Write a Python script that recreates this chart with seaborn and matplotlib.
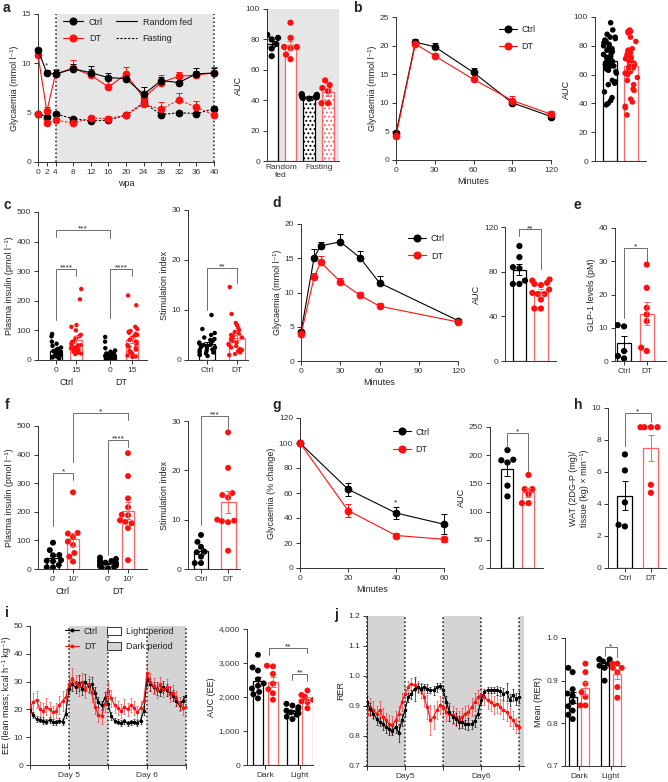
import numpy as np
import pandas as pd
import matplotlib
matplotlib.use("Agg")
import matplotlib.pyplot as plt
from matplotlib.lines import Line2D
from matplotlib.patches import Patch
import seaborn as sns

# ---------------- data ----------------
# a: glycaemia over weeks post ablation
wpa = [0, 2, 4, 8, 12, 16, 20, 24, 28, 32, 36, 40]
fed_ctrl = [11.35, 9.05, 8.9, 9.45, 9.05, 8.55, 8.45, 6.85, 8.25, 8.05, 8.95, 9.0]
fed_dt = [10.85, 5.15, 8.95, 9.5, 8.8, 7.6, 8.9, 6.5, 8.05, 8.7, 8.8, 9.05]
fast_ctrl = [4.9, 4.6, 4.85, 4.4, 4.15, 4.25, 4.75, 6.0, 4.8, 5.0, 4.9, 5.4]
fast_dt = [4.9, 4.0, 4.25, 3.95, 4.45, 4.4, 4.75, 5.85, 5.35, 6.3, 5.55, 4.75]
fed_ctrl_se = [0.2, 0.3, 0.4, 0.5, 0.7, 0.5, 0.3, 0.8, 0.4, 0.5, 0.6, 0.5]
fed_dt_se = [0.2, 0.4, 0.5, 0.8, 0.6, 0.9, 0.7, 0.6, 0.8, 0.4, 0.4, 0.6]
fast_ctrl_se = [0.1, 0.1, 0.1, 0.1, 0.1, 0.1, 0.1, 0.3, 0.1, 0.1, 0.2, 0.3]
fast_dt_se = [0.1, 0.1, 0.2, 0.1, 0.2, 0.3, 0.1, 0.4, 0.7, 0.7, 0.6, 0.1]
auc_fed_ctrl = [83, 81, 80, 77, 75, 74, 69]
auc_fed_dt = [91, 81, 75, 75, 74, 70, 67]
auc_fast_ctrl = [44, 43.5, 43, 42, 42, 41.5, 41]
auc_fast_dt = [53, 50, 48, 46, 38, 38]

# b: IPGTT
b_min = [0, 15, 30, 60, 90, 120]
b_ctrl = [4.65, 20.6, 19.8, 15.3, 10.0, 7.6]
b_dt = [4.2, 20.3, 18.2, 14.1, 10.4, 8.0]
b_ctrl_se = [0.3, 0.5, 0.7, 0.8, 0.3, 0.3]
b_dt_se = [0.2, 0.5, 0.5, 0.4, 0.8, 0.5]
b_auc_ctrl = [96, 91, 88, 86, 86, 85, 84, 83, 82, 81, 80, 79, 78, 77, 76, 75, 74, 73, 72, 71,
              70, 69, 68, 67, 66, 66, 65, 64, 63, 62, 61, 56, 55, 54, 53, 48, 44, 42, 40, 39]
b_auc_dt = [91, 90, 90, 89, 86, 83, 78, 77, 76, 75, 74, 73, 72, 71, 70, 69, 68, 67, 67, 66,
            66, 65, 65, 64, 63, 62, 61, 60, 58, 56, 53, 50, 49, 43, 41, 38, 37, 32]

# c: plasma insulin 0 / 15 min and stimulation index
c_ctrl_0 = [88, 80, 62, 55, 48, 42, 38, 35, 32, 30, 28, 26, 25, 24, 22, 20, 18, 17, 15, 14, 12, 10, 9, 8, 6]
c_ctrl_15 = [240, 205, 118, 112, 100, 85, 80, 75, 70, 62, 58, 55, 50, 48, 45, 42, 40, 38, 35, 32, 30, 28, 25, 22, 20]
c_dt_0 = [78, 62, 40, 32, 28, 25, 22, 20, 18, 16, 15, 14, 12, 11, 10, 9, 8, 7, 6, 5, 5, 4, 3, 2, 2]
c_dt_15 = [218, 185, 112, 105, 98, 95, 92, 88, 85, 80, 75, 68, 62, 55, 50, 45, 40, 35, 30, 28, 25, 20, 15, 12, 10]
c_si_ctrl = [9, 6.2, 5.4, 5, 4.5, 4.2, 4, 3.8, 3.5, 3.3, 3.1, 3, 2.8, 2.6, 2.5, 2.3, 2.1, 2, 1.8, 1.6, 1.5, 1.3, 1.1, 1, 0.8]
c_si_dt = [14.6, 9.2, 7.4, 7, 6.4, 6, 5.6, 5.2, 5, 4.8, 4.5, 4.2, 4, 3.8, 3.5, 3.2, 3, 2.8, 2.5, 2.2, 2, 1.8, 1.5, 1.2, 1]

# d: OGTT
d_min = [0, 10, 15, 30, 45, 60, 120]
d_ctrl = [4.2, 15.1, 16.8, 17.4, 15.1, 11.4, 5.9]
d_dt = [3.9, 12.2, 14.4, 11.6, 9.6, 8.0, 5.7]
d_ctrl_se = [0.3, 1.3, 0.5, 1.2, 1.0, 1.0, 0.2]
d_dt_se = [0.2, 0.6, 0.9, 0.5, 0.5, 0.4, 0.2]
d_auc_ctrl = [103, 93, 84, 83, 72, 69, 69]
d_auc_dt = [73, 72, 70, 69, 68, 64, 61, 60, 60, 55, 47, 47]

# e: GLP-1
e_ctrl = [10.8, 10.4, 3.0, 1.5, 0.8]
e_dt = [29, 22, 16, 14, 12, 4, 3]

# f: plasma insulin 0' / 10' and stimulation index
f_ctrl_0 = [92, 66, 49, 48, 31, 29, 27, 14, 6, 6]
f_ctrl_10 = [268, 126, 124, 112, 96, 84, 56, 43, 26]
f_dt_0 = [40, 35, 30, 28, 25, 22, 20, 18, 15, 12, 10, 8, 5, 3]
f_dt_10 = [405, 325, 247, 216, 190, 188, 170, 165, 160, 143, 31]
f_si_ctrl = [6.9, 5.5, 4.5, 3.5, 3.4, 2.5, 1.2, 1.2]
f_si_dt = [27.7, 20.5, 15.4, 15, 14.5, 10, 9.8, 9.7, 9.5, 3.7]

# g: ITT
g_min = [0, 20, 40, 60]
g_ctrl = [100, 63, 44, 35]
g_dt = [100, 46, 26, 23]
g_ctrl_se = [0, 5, 5, 8]
g_dt_se = [0, 5, 2, 2]
g_auc_ctrl = [209, 192, 191, 187, 146, 127]
g_auc_dt = [165, 140, 140, 131, 115, 115]

# h: WAT 2DG uptake
h_ctrl = [7.1, 6.1, 4.1, 2.7, 2.6]
h_dt = [8.8, 8.8, 8.8, 8.8, 5.2, 4.7]

# i: energy expenditure, hourly over 48 h
ee_ctrl = [20.0, 18.0, 16.5, 16.2, 16.0, 15.6, 16.2, 15.5, 15.3, 16.0, 15.5, 18.5,
           27.5, 29.0, 28.0, 29.5, 27.5, 30.0, 28.5, 29.0, 26.0, 22.5, 21.5, 24.0,
           22.0, 17.5, 16.0, 15.5, 15.2, 15.8, 15.0, 15.3, 15.6, 15.2, 16.0, 19.5,
           31.0, 29.0, 28.0, 27.5, 26.5, 28.0, 27.0, 26.0, 25.0, 23.0, 21.5, 23.0,
           25.0]
ee_dt = [21.0, 22.5, 23.5, 20.0, 19.5, 21.0, 20.0, 19.0, 19.5, 21.5, 23.0, 24.5,
         29.0, 31.0, 29.5, 28.5, 30.0, 27.0, 29.0, 26.0, 21.0, 18.0, 17.5, 22.0,
         26.5, 24.0, 21.5, 20.5, 19.5, 21.0, 20.0, 21.5, 20.5, 19.0, 20.5, 23.0,
         33.0, 30.0, 28.5, 27.0, 29.0, 27.0, 28.0, 25.5, 26.0, 24.0, 22.0, 20.5,
         21.0]
ee_ctrl_se = [1.2, 1.0, 1.0, 0.9, 1.1, 0.9, 1.0, 1.2, 0.9, 1.0, 1.1, 1.5,
              2.0, 2.5, 2.2, 2.8, 2.4, 2.6, 2.3, 2.5, 2.0, 1.8, 1.6, 2.2,
              2.0, 1.4, 1.0, 0.9, 1.0, 0.9, 1.0, 0.8, 0.9, 1.0, 1.1, 1.6,
              2.5, 2.4, 2.0, 2.2, 1.8, 2.1, 2.3, 1.9, 2.0, 1.8, 1.7, 2.0,
              2.2]
ee_dt_se = [2.5, 3.5, 3.0, 2.5, 2.8, 3.0, 2.6, 2.4, 2.7, 3.2, 3.5, 3.0,
            3.2, 3.8, 3.0, 3.5, 3.2, 2.8, 3.0, 3.2, 2.8, 2.5, 2.6, 3.0,
            3.4, 3.0, 2.8, 2.6, 2.5, 2.8, 2.4, 2.6, 2.5, 2.4, 2.6, 2.8,
            3.5, 3.0, 2.8, 3.0, 2.8, 2.6, 2.9, 2.8, 2.6, 2.7, 2.4, 2.5,
            2.8]
ee_auc_dark_ctrl = [3240, 2870, 2780, 2520, 2400, 2330, 2250, 2150, 2080, 1960]
ee_auc_dark_dt = [2920, 2900, 2680, 2390, 2230, 2110, 1920]
ee_auc_light_ctrl = [1800, 1750, 1700, 1650, 1600, 1550, 1520, 1480, 1420, 1350]
ee_auc_light_dt = [2190, 2060, 2010, 1920, 1870, 1850, 1670]

# j: respiratory exchange ratio, hourly over 48 h
rer_ctrl = [0.914, 0.890, 0.875, 0.858, 0.847, 0.840, 0.830, 0.825, 0.817, 0.830, 0.810, 0.853,
            0.886, 0.930, 0.940, 0.958, 0.963, 0.958, 0.965, 0.958, 0.953, 0.953, 0.963, 0.968,
            0.953, 0.914, 0.880, 0.864, 0.858, 0.847, 0.847, 0.840, 0.839, 0.840, 0.851, 0.875,
            0.920, 0.947, 0.953, 0.953, 0.955, 0.953, 0.950, 0.940, 0.947, 0.920, 0.936, 0.925,
            0.930]
rer_dt = [0.875, 0.897, 0.886, 0.875, 0.886, 0.864, 0.853, 0.840, 0.836, 0.853, 0.875, 0.914,
          0.940, 0.963, 0.975, 0.970, 0.963, 0.953, 0.930, 0.897, 0.853, 0.864, 0.886, 0.903,
          0.897, 0.880, 0.875, 0.870, 0.864, 0.853, 0.864, 0.875, 0.880, 0.897, 0.914, 0.930,
          0.936, 0.930, 0.920, 0.914, 0.903, 0.908, 0.897, 0.886, 0.880, 0.864, 0.853, 0.836,
          0.830]
rer_ctrl_se = [0.02, 0.02, 0.015, 0.02, 0.015, 0.02, 0.02, 0.02, 0.015, 0.02, 0.03, 0.02,
               0.02, 0.015, 0.015, 0.04, 0.015, 0.015, 0.01, 0.015, 0.01, 0.015, 0.015, 0.01,
               0.015, 0.02, 0.03, 0.02, 0.02, 0.02, 0.02, 0.015, 0.02, 0.015, 0.02, 0.015,
               0.015, 0.01, 0.01, 0.01, 0.01, 0.015, 0.015, 0.02, 0.03, 0.02, 0.02, 0.02,
               0.02]
rer_dt_se = [0.03, 0.03, 0.03, 0.025, 0.03, 0.03, 0.025, 0.03, 0.03, 0.03, 0.025, 0.03,
             0.025, 0.02, 0.02, 0.02, 0.02, 0.025, 0.03, 0.04, 0.05, 0.04, 0.03, 0.03,
             0.03, 0.03, 0.025, 0.03, 0.03, 0.03, 0.03, 0.025, 0.025, 0.03, 0.03, 0.025,
             0.025, 0.025, 0.03, 0.03, 0.03, 0.03, 0.025, 0.03, 0.03, 0.03, 0.03, 0.025,
             0.02]
rer_mean_dark_ctrl = [0.93, 0.92, 0.88, 0.87, 0.865, 0.85, 0.84, 0.83, 0.82, 0.81]
rer_mean_dark_dt = [0.94, 0.92, 0.893, 0.873, 0.862, 0.842, 0.842]
rer_mean_light_ctrl = [0.95, 0.95, 0.95, 0.945, 0.94, 0.935, 0.93, 0.9]
rer_mean_light_dt = [0.94, 0.94, 0.93, 0.93, 0.92, 0.885, 0.86]

# ---------------- style ----------------
sns.set_theme(style="ticks", context="paper")
plt.rcParams["font.family"] = ["Liberation Sans", "DejaVu Sans"]
plt.rcParams.update({
    "font.size": 6.5, "axes.labelsize": 6.5, "xtick.labelsize": 6, "ytick.labelsize": 6,
    "axes.linewidth": 0.7, "xtick.major.width": 0.7, "ytick.major.width": 0.7,
    "xtick.major.size": 3, "ytick.major.size": 3, "xtick.major.pad": 2, "ytick.major.pad": 2,
    "axes.edgecolor": "#333333", "text.color": "#222222", "axes.labelcolor": "#222222",
    "xtick.color": "#333333", "ytick.color": "#333333", "hatch.linewidth": 0.9,
    "axes.labelpad": 2, "legend.fontsize": 6.5,
})

BLK = "black"
RED = "#ff1010"
RED_BAR = "#ff6464"
DOT = (0, (1, 1.6))
DASH = (0, (2, 1.5))

W, H = 668, 782
np.random.seed(3)
fig = plt.figure(figsize=(W / 100, H / 100), dpi=100)


def box(l, t, r, b):
    ax = fig.add_axes([l / W, 1 - b / H, (r - l) / W, (b - t) / H])
    sns.despine(ax=ax)
    return ax


def curve(ax, x, y, se, color, ls="-", both=False, ms=4.8):
    sns.lineplot(x=x, y=y, color=color, lw=0.8, linestyle=ls, marker="o", markersize=ms,
                 markeredgecolor=color, ax=ax, clip_on=False, zorder=4)
    se = np.asarray(se, float)
    yerr = se if both else [np.zeros_like(se), se]
    ax.errorbar(x, y, yerr=yerr, fmt="none", ecolor=color, elinewidth=0.7, capsize=2,
                capthick=0.7, zorder=3, clip_on=False)


def trace(ax, y, se, color, alpha):
    hrs = np.arange(len(y))
    ax.errorbar(hrs, y, yerr=se, fmt="none", ecolor=color, elinewidth=0.5, capsize=1,
                capthick=0.5, alpha=alpha, zorder=3)
    sns.lineplot(x=hrs, y=y, color=color, lw=0.8, marker="o", markersize=1.8,
                 markeredgecolor=color, ax=ax, zorder=4)


def bar_dots(ax, pos, groups, kinds, width, size=4.5, hatches=None, jitter=None):
    for i, (p, vals, k) in enumerate(zip(pos, groups, kinds)):
        vals = np.asarray(vals, float)
        m = vals.mean()
        se = vals.std(ddof=1) / np.sqrt(len(vals))
        ec = BLK if k == "Ctrl" else RED_BAR
        ax.bar(p, m, width=width, facecolor="white", edgecolor=ec, lw=0.9,
               hatch=None if hatches is None else hatches[i], zorder=1)
        ax.errorbar(p, m, yerr=se, fmt="none", ecolor=ec, elinewidth=0.7, capsize=2,
                    capthick=0.7, zorder=5)
    n = [len(g) for g in groups]
    df = pd.DataFrame({"x": np.repeat(np.asarray(pos, float), n),
                       "y": np.concatenate([np.asarray(g, float) for g in groups]),
                       "grp": np.repeat(kinds, n)})
    pal = {"Ctrl": BLK, "DT": RED}
    if jitter is None:
        sns.swarmplot(data=df, x="x", y="y", hue="grp", palette=pal, native_scale=True,
                      size=size, linewidth=0, ax=ax, legend=False, zorder=3)
    else:
        sns.stripplot(data=df, x="x", y="y", hue="grp", palette=pal, native_scale=True,
                      size=size, linewidth=0, jitter=jitter, ax=ax, legend=False, zorder=3)
    ax.set_xlabel("")
    ax.set_ylabel("")


def sig(ax, x1, x2, y, y1, y2, txt):
    ax.plot([x1, x1, x2, x2], [y1, y, y, y2], color="#555555", lw=0.6, clip_on=False, zorder=6)
    ax.annotate(txt, xy=((x1 + x2) / 2, y), xytext=(0, -0.5), textcoords="offset points",
                ha="center", va="baseline", fontsize=6, annotation_clip=False)


def group_label(ax, x, txt):
    ax.annotate(txt, xy=(x, 0), xycoords=("data", "axes fraction"), xytext=(0, -16.5),
                textcoords="offset points", ha="center", va="center", fontsize=6.5)


def legend_ctrl_dt(ax, anchor, ms=4.8):
    hs = [Line2D([], [], color=BLK, marker="o", ms=ms, lw=0.8),
          Line2D([], [], color=RED, marker="o", ms=ms, lw=0.8)]
    ax.legend(hs, ["Ctrl", "DT"], loc="upper left", bbox_to_anchor=anchor, frameon=False,
              handlelength=2.0, labelspacing=0.9, handletextpad=0.5, borderaxespad=0)


ctrl_dt = ["Ctrl", "DT"]
four = ["Ctrl", "DT", "Ctrl", "DT"]
ylab_gly = "Glycaemia (mmol l\u207b\u00b9)"
ylab_ins = "Plasma insulin (pmol l\u207b\u00b9)"

# ---------------- a ----------------
ax = box(38, 14, 214, 162)
ax.axvspan(4, 40, color="#e6e6e6", lw=0, zorder=0)
for xv in (4, 40):
    ax.axvline(xv, color="k", lw=1.1, ls=DOT, zorder=1, clip_on=False)
curve(ax, wpa, fast_ctrl, fast_ctrl_se, BLK, ls=DASH)
curve(ax, wpa, fast_dt, fast_dt_se, RED, ls=DASH)
curve(ax, wpa, fed_dt, fed_dt_se, RED)
curve(ax, wpa, fed_ctrl, fed_ctrl_se, BLK)
ax.text(2, 9.55, "*", ha="center", va="baseline", fontsize=6)
ax.set_xlim(0, 40)
ax.set_ylim(0, 15)
ax.set_xticks(wpa)
ax.set_yticks([0, 5, 10, 15])
ax.set_xlabel("wpa")
ax.set_ylabel(ylab_gly)
hs = [Line2D([], [], color=BLK, marker="o", ms=4.8, lw=0.8),
      Line2D([], [], color=RED, marker="o", ms=4.8, lw=0.8),
      Line2D([], [], color=BLK, lw=0.8), Line2D([], [], color=BLK, lw=0.8, ls=DASH)]
ax.legend(hs, ["Ctrl", "DT", "Random fed", "Fasting"], ncol=2, loc="upper left",
          bbox_to_anchor=(0.12, 1.0), frameon=False, handlelength=2.3, columnspacing=1.5,
          labelspacing=0.8, handletextpad=0.6, borderaxespad=0)

ax = box(267, 9, 339, 161)
ax.set_facecolor("#e6e6e6")
bar_dots(ax, [0, 1, 2, 3], [auc_fed_ctrl, auc_fed_dt, auc_fast_ctrl, auc_fast_dt], four,
         0.63, size=4.5, hatches=[None, None, "....", "...."])
ax.set_xlim(-0.25, 3.58)
ax.set_ylim(0, 100)
ax.set_yticks(range(0, 101, 20))
ax.set_xticks([0.5, 2.5], ["Random\nfed", "Fasting"])
ax.tick_params(axis="x", length=0)
ax.set_ylabel("AUC")

# ---------------- b ----------------
ax = box(396, 17, 551, 160)
curve(ax, b_min, b_ctrl, b_ctrl_se, BLK)
curve(ax, b_min, b_dt, b_dt_se, RED)
ax.set_xlim(0, 120)
ax.set_ylim(0, 25)
ax.set_xticks([0, 30, 60, 90, 120])
ax.set_yticks(range(0, 26, 5))
ax.set_xlabel("Minutes")
ax.set_ylabel(ylab_gly)
legend_ctrl_dt(ax, (0.64, 0.97))

ax = box(595, 17, 646, 161)
bar_dots(ax, [0, 1], [b_auc_ctrl, b_auc_dt], ctrl_dt, 0.67, size=4, jitter=0.32)
ax.set_xlim(-0.71, 1.71)
ax.set_ylim(0, 100)
ax.set_yticks(range(0, 101, 20))
ax.set_xticks([])
ax.set_ylabel("AUC")

# ---------------- c ----------------
c_pos = [0, 1, 2.7, 3.8]
ax = box(38, 212, 147, 360)
bar_dots(ax, c_pos, [c_ctrl_0, c_ctrl_15, c_dt_0, c_dt_15], four, 0.6, size=3.2, jitter=0.28)
ax.set_xlim(-0.9, 4.55)
ax.set_ylim(0, 500)
ax.set_yticks(range(0, 501, 100))
ax.set_xticks(c_pos, ["0", "15", "0", "15"])
group_label(ax, 0.5, "Ctrl")
group_label(ax, 3.25, "DT")
ax.set_ylabel(ylab_ins)
sig(ax, 0, 2.7, 439, 416, 412, "***")
sig(ax, 0, 1, 307, 135, 283, "****")
sig(ax, 2.7, 3.8, 307, 142, 283, "****")

ax = box(188, 210, 248, 360)
bar_dots(ax, [0, 1], [c_si_ctrl, c_si_dt], ctrl_dt, 0.55, size=3.2, jitter=0.28)
ax.set_xlim(-0.63, 1.37)
ax.set_ylim(0, 30)
ax.set_yticks([0, 10, 20, 30])
ax.set_xticks([0, 1], ctrl_dt)
ax.set_ylabel("Stimulation index")
sig(ax, 0, 1, 18.5, 10, 15.5, "**")

# ---------------- d ----------------
ax = box(301, 224, 458, 361)
curve(ax, d_min, d_ctrl, d_ctrl_se, BLK)
curve(ax, d_min, d_dt, d_dt_se, RED)
ax.set_xlim(0, 120)
ax.set_ylim(0, 20)
ax.set_xticks([0, 30, 60, 90, 120])
ax.set_yticks(range(0, 21, 5))
ax.set_xlabel("Minutes")
ax.set_ylabel(ylab_gly)
legend_ctrl_dt(ax, (0.66, 0.95))

ax = box(505, 227, 556, 361)
bar_dots(ax, [0, 1], [d_auc_ctrl, d_auc_dt], ctrl_dt, 0.62, size=4.5)
ax.set_xlim(-0.67, 1.7)
ax.set_ylim(0, 120)
ax.set_yticks([0, 40, 80, 120])
ax.set_xticks([])
ax.set_ylabel("AUC")
sig(ax, 0, 1, 118, 112, 82, "**")

# ---------------- e ----------------
ax = box(615, 228, 666, 361)
bar_dots(ax, [0, 1], [e_ctrl, e_dt], ctrl_dt, 0.6, size=4.5)
ax.set_xlim(-0.4, 1.85)
ax.set_ylim(0, 40)
ax.set_yticks(range(0, 41, 10))
ax.set_xticks([0, 1], ctrl_dt)
ax.set_ylabel("GLP-1 levels (pM)")
sig(ax, 0, 1, 34, 13, 30, "*")

# ---------------- f ----------------
f_pos = [0, 1, 2.75, 3.75]
ax = box(38, 426, 147, 569)
bar_dots(ax, f_pos, [f_ctrl_0, f_ctrl_10, f_dt_0, f_dt_10], four, 0.6, size=4.3)
ax.set_xlim(-0.75, 4.7)
ax.set_ylim(0, 500)
ax.set_yticks(range(0, 501, 100))
ax.set_xticks(f_pos, ["0\u2032", "10\u2032", "0\u2032", "10\u2032"])
group_label(ax, 0.5, "Ctrl")
group_label(ax, 3.25, "DT")
ax.set_ylabel(ylab_ins)
sig(ax, 0, 1, 337, 150, 310, "*")
sig(ax, 1, 3.75, 546, 375, 520, "*")
sig(ax, 2.75, 3.75, 451, 50, 428, "****")

ax = box(188, 421, 240, 569)
bar_dots(ax, [0, 1], [f_si_ctrl, f_si_dt], ctrl_dt, 0.55, size=4.3)
ax.set_xlim(-0.48, 1.44)
ax.set_ylim(0, 30)
ax.set_yticks([0, 10, 20, 30])
ax.set_xticks([0, 1], ctrl_dt)
ax.set_ylabel("Stimulation index")
sig(ax, 0, 1, 31, 9, 28.6, "***")

# ---------------- g ----------------
ax = box(300, 418, 444, 568)
curve(ax, g_min, g_ctrl, g_ctrl_se, BLK, both=True)
curve(ax, g_min, g_dt, g_dt_se, RED, both=True)
ax.text(40, 50.5, "*", ha="center", va="baseline", fontsize=6)
ax.set_xlim(0, 60)
ax.set_ylim(0, 120)
ax.set_xticks([0, 20, 40, 60])
ax.set_yticks(range(0, 121, 20))
ax.set_xlabel("Minutes")
ax.set_ylabel("Glycaemia (% change)")
legend_ctrl_dt(ax, (0.62, 0.96))

ax = box(490, 427, 543, 568)
bar_dots(ax, [0, 1], [g_auc_ctrl, g_auc_dt], ctrl_dt, 0.57, size=4.5)
ax.set_xlim(-0.83, 1.69)
ax.set_ylim(0, 250)
ax.set_yticks(range(0, 251, 50))
ax.set_xticks([])
ax.set_ylabel("AUC")
sig(ax, 0, 1, 240, 212, 172, "*")

# ---------------- h ----------------
ax = box(608, 408, 666, 568)
bar_dots(ax, [0, 1], [h_ctrl, h_dt], ctrl_dt, 0.58, size=4.5)
ax.set_xlim(-0.65, 1.58)
ax.set_ylim(0, 10)
ax.set_yticks(range(0, 11, 2))
ax.set_xticks([0, 1], ctrl_dt)
ax.set_ylabel("WAT (2DG-P (mg)/\ntissue (kg) \u00d7 min\u207b\u00b9)")
sig(ax, 0, 1, 9.7, 7.6, 9.1, "*")

# ---------------- i ----------------
ax = box(30, 626, 186, 765)
for a0, a1 in [(12, 24), (36, 48)]:
    ax.axvspan(a0, a1, color="#d4d4d4", lw=0, zorder=0)
for xv in (12, 24, 36, 48):
    ax.axvline(xv, color="k", lw=1.1, ls=DOT, zorder=1, clip_on=False)
trace(ax, ee_ctrl, ee_ctrl_se, BLK, 0.9)
trace(ax, ee_dt, ee_dt_se, RED, 0.75)
ax.set_xlim(0, 48)
ax.set_ylim(0, 50)
ax.set_yticks(range(0, 51, 10))
ax.set_xticks([0, 12, 24, 36, 48], ["", "Day 5", "", "Day 6", ""])
ax.set_ylabel("EE (lean mass; kcal h\u207b\u00b9 kg\u207b\u00b9)")
hs = [Line2D([], [], color=BLK, marker="o", ms=1.8, lw=0.8),
      Line2D([], [], color=RED, marker="o", ms=1.8, lw=0.8),
      Patch(facecolor="white", edgecolor="#333333", lw=0.7),
      Patch(facecolor="#d4d4d4", edgecolor="#333333", lw=0.7)]
ax.legend(hs, ["Ctrl", "DT", "Light period", "Dark period"], ncol=2, loc="upper left",
          bbox_to_anchor=(0.2, 1.02), frameon=False, handlelength=1.6, handleheight=1.0,
          columnspacing=1.0, labelspacing=0.7, handletextpad=0.5, borderaxespad=0)

ax = box(247, 629, 313, 765)
i_pos = [0, 1, 2.3, 3.3]
bar_dots(ax, i_pos, [ee_auc_dark_ctrl, ee_auc_dark_dt, ee_auc_light_ctrl, ee_auc_light_dt],
         four, 0.68, size=4.3)
ax.set_xlim(-0.73, 3.67)
ax.set_ylim(0, 4000)
ax.set_yticks(range(0, 4001, 1000), ["0", "1,000", "2,000", "3,000", "4,000"])
ax.set_xticks([0.5, 2.8], ["Dark", "Light"])
ax.set_ylabel("AUC (EE)")
sig(ax, 0.75, 3.3, 3450, 3250, 3300, "**")
sig(ax, 2.3, 3.3, 2680, 2500, 2460, "**")

# ---------------- j ----------------
ax = box(367, 616, 524, 766)
for a0, a1 in [(0, 12), (24, 36), (48, 49.5)]:
    ax.axvspan(a0, a1, color="#d4d4d4", lw=0, zorder=0)
for xv in (0, 12, 24, 36, 48):
    ax.axvline(xv, color="k", lw=1.1, ls=DOT, zorder=1, clip_on=False)
trace(ax, rer_dt, rer_dt_se, RED, 0.75)
trace(ax, rer_ctrl, rer_ctrl_se, BLK, 0.9)
ax.set_xlim(0, 49.5)
ax.set_ylim(0.7, 1.2)
ax.set_yticks(np.round(np.arange(0.7, 1.21, 0.1), 1))
ax.set_xticks([0, 12, 24, 36, 48], ["", "Day5", "", "Day6", ""])
ax.set_ylabel("RER")

ax = box(565, 638, 625, 766)
j_pos = [0, 1, 2.5, 3.5]
bar_dots(ax, j_pos, [rer_mean_dark_ctrl, rer_mean_dark_dt, rer_mean_light_ctrl, rer_mean_light_dt],
         four, 0.62, size=4.3)
ax.set_xlim(-0.6, 4.1)
ax.set_ylim(0.7, 1.0)
ax.set_yticks([0.7, 0.8, 0.9, 1.0])
ax.set_xticks([0.5, 3.0], ["Dark", "Light"])
ax.set_ylabel("Mean (RER)")
sig(ax, 2.5, 3.5, 0.978, 0.958, 0.955, "*")

# ---------------- panel letters ----------------
for ch, x, y in [("a", 3, 8), ("b", 353, 8), ("c", 3, 205), ("d", 272, 203), ("e", 573, 205),
                 ("f", 5, 405), ("g", 272, 405), ("h", 574, 405), ("i", 5, 613), ("j", 334, 615)]:
    fig.text(x / W, 1 - y / H, ch, fontsize=10, fontweight="bold", ha="left", va="center")

fig.savefig("out.png", dpi=100)
